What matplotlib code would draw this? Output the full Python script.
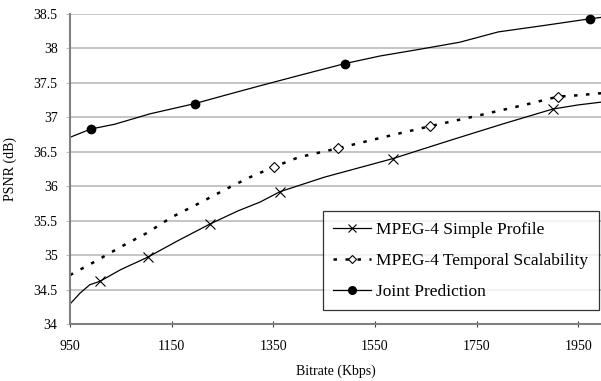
import matplotlib.pyplot as plt
from matplotlib.lines import Line2D

plt.rcParams["font.family"] = ["Liberation Serif", "DejaVu Serif"]

# curve samples (Kbps, dB)
sp_x = [950, 970, 989, 1009, 1050, 1103, 1160, 1225, 1280, 1324, 1363, 1450, 1520, 1585, 1700, 1800, 1900, 1950, 1995]
sp_y = [34.29, 34.45, 34.57, 34.62, 34.79, 34.97, 35.2, 35.45, 35.64, 35.77, 35.92, 36.13, 36.27, 36.40, 36.67, 36.9, 37.12, 37.18, 37.22]
ts_x = [950, 1000, 1050, 1101, 1150, 1206, 1260, 1304, 1351, 1400, 1477, 1560, 1658, 1750, 1850, 1910, 1950, 1995]
ts_y = [34.71, 34.91, 35.12, 35.32, 35.55, 35.76, 35.97, 36.13, 36.28, 36.42, 36.55, 36.70, 36.87, 37.02, 37.19, 37.30, 37.32, 37.35]
jp_x = [950, 991, 1038, 1107, 1196, 1250, 1320, 1402, 1491, 1560, 1640, 1717, 1793, 1880, 1973, 1995]
jp_y = [36.71, 36.83, 36.90, 37.05, 37.20, 37.31, 37.45, 37.61, 37.78, 37.89, 37.99, 38.09, 38.24, 38.33, 38.43, 38.45]

# marker positions
sp_mx = [1009, 1103, 1225, 1363, 1585, 1900]
sp_my = [34.62, 34.97, 35.45, 35.92, 36.40, 37.12]
ts_mx = [1351, 1477, 1658, 1910]
ts_my = [36.28, 36.55, 36.87, 37.29]
jp_mx = [991, 1196, 1491, 1973]
jp_my = [36.83, 37.20, 37.78, 38.43]

labels = ["MPEG-4 Simple Profile", "MPEG-4 Temporal Scalability", "Joint Prediction"]
xticks = [950, 1150, 1350, 1550, 1750, 1950]
yticks = [34, 34.5, 35, 35.5, 36, 36.5, 37, 37.5, 38, 38.5]
ytick_labels = ["34", "34.5", "35", "35.5", "36", "36.5", "37", "37.5", "38", "38.5"]

fig = plt.figure(figsize=(6.01, 3.81), dpi=100)
ax = fig.add_axes([0.1165, 0.1496, 0.8835, 0.8137])

dash = (0, (1.4, 3.4))
ax.plot(sp_x, sp_y, color="black", lw=0.9)
ax.plot(sp_mx, sp_my, ls="none", marker="x", ms=7, mew=0.8, color="black")
ax.plot(ts_x, ts_y, color="black", lw=1.8, ls=dash)
ax.plot(ts_mx, ts_my, ls="none", marker="D", ms=5, mew=0.8, mfc="white", mec="black")
ax.plot(jp_x, jp_y, color="black", lw=0.9)
ax.plot(jp_mx, jp_my, ls="none", marker="o", ms=6, color="black")

ax.set_xlim(950, 1995)
ax.set_ylim(34, 38.5)
ax.set_xticks(xticks)
ax.set_yticks(yticks)
ax.set_yticklabels(ytick_labels)
ax.yaxis.grid(True, color="#c0c0c0", lw=1.3)
ax.set_axisbelow(True)
for s in ["top", "right"]:
    ax.spines[s].set_visible(False)
for s in ["left", "bottom"]:
    ax.spines[s].set_color("#808080")
    ax.spines[s].set_linewidth(1.5)
ax.tick_params(axis="x", direction="inout", length=5, color="#404040", labelsize=10, pad=9)
ax.tick_params(axis="y", direction="out", length=3, color="#c0c0c0", labelsize=10, pad=6)
ax.set_xlabel("Bitrate (Kbps)", fontsize=10, labelpad=8)
ax.set_ylabel("PSNR (dB)", fontsize=10, labelpad=12)

handles = [
    Line2D([], [], color="black", lw=0.9, marker="x", ms=6, mew=0.8),
    Line2D([], [], color="black", lw=1.8, ls=dash, marker="D", ms=4.5, mew=0.8, mfc="white"),
    Line2D([], [], color="black", lw=0.9, marker="o", ms=5.5),
]
leg = ax.legend(handles, labels, loc="lower right", bbox_to_anchor=(0.996, 0.045),
                borderaxespad=0, fontsize=12.5, frameon=True, fancybox=False, edgecolor="black",
                handlelength=2.2, labelspacing=0.85, borderpad=0.6, handletextpad=0.3)
leg.get_frame().set_linewidth(0.9)

fig.savefig("out.png", dpi=100)
